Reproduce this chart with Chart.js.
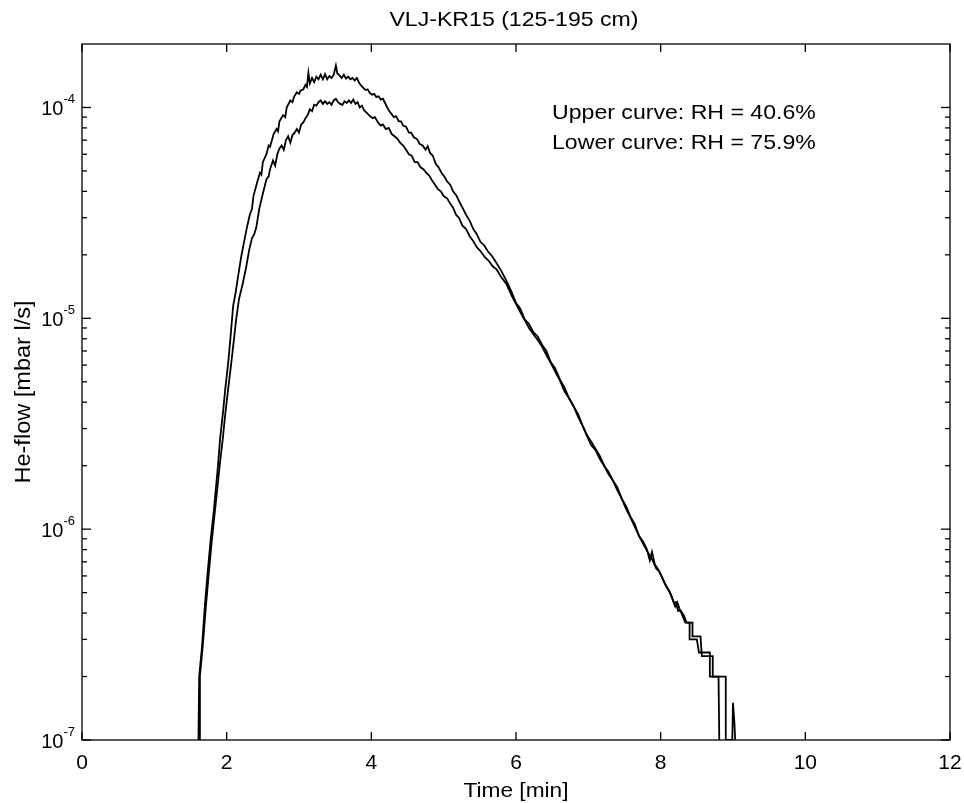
<!DOCTYPE html>
<html>
<head>
<meta charset="utf-8">
<script src="https://cdn.jsdelivr.net/npm/chart.js@4/dist/chart.umd.min.js"></script>
<style>
html,body{margin:0;padding:0;background:#fff;}
#wrap{width:964px;height:803px;position:relative;}
</style>
</head>
<body>
<div id="wrap"><canvas id="c" width="964" height="803"></canvas></div>
<script>
// ---------------- data ----------------
const chartTitle = 'VLJ-KR15 (125-195 cm)';
const xAxisTitle = 'Time [min]';
const yAxisTitle = 'He-flow [mbar l/s]';
const noteLines = ['Upper curve: RH = 40.6%', 'Lower curve: RH = 75.9%'];
const xTickValues = [0, 2, 4, 6, 8, 10, 12];
const xTickLabels = ['0', '2', '4', '6', '8', '10', '12'];
const yTickExponents = [-7, -6, -5, -4];
const yTickBase = '10';

// [time (min), He-flow (mbar l/s)]
const upperCurve = [
[1.61,1.0e-7],[1.62,2.0e-7],[1.66,2.8e-7],[1.70,4.4e-7],[1.74,6.4e-7],[1.78,9.0e-7],[1.82,1.2e-6],[1.85,1.55e-6],[1.88,2.0e-6],[1.91,2.7e-6],[1.95,3.6e-6],[1.98,4.6e-6],[2.02,6.1e-6],[2.05,7.9e-6],[2.09,1.15e-5],[2.12,1.3e-5],[2.16,1.6e-5],[2.20,1.95e-5],[2.24,2.3e-5],[2.28,2.7e-5],[2.32,3.1e-5],[2.35,3.3e-5],[2.37,3.8e-5],[2.42,4.4e-5],[2.46,4.9e-5],[2.48,4.8e-5],[2.50,5.5e-5],[2.55,6.0e-5],[2.58,6.6e-5],[2.60,6.5e-5],[2.65,7.5e-5],[2.69,7.9e-5],[2.71,7.7e-5],[2.73,8.6e-5],[2.78,9.2e-5],[2.81,9.0e-5],[2.83,1.0e-4],[2.88,1.08e-4],[2.91,1.06e-4],[2.93,1.12e-4],[2.97,1.18e-4],[3.00,1.16e-4],[3.02,1.2e-4],[3.06,1.22e-4],[3.09,1.28e-4],[3.11,1.25e-4],[3.13,1.46e-4],[3.15,1.3e-4],[3.18,1.38e-4],[3.21,1.32e-4],[3.24,1.4e-4],[3.27,1.36e-4],[3.30,1.43e-4],[3.33,1.36e-4],[3.36,1.44e-4],[3.39,1.36e-4],[3.42,1.41e-4],[3.45,1.38e-4],[3.48,1.43e-4],[3.51,1.58e-4],[3.53,1.45e-4],[3.56,1.42e-4],[3.59,1.38e-4],[3.62,1.43e-4],[3.65,1.37e-4],[3.68,1.4e-4],[3.71,1.36e-4],[3.74,1.38e-4],[3.77,1.34e-4],[3.80,1.38e-4],[3.83,1.31e-4],[3.86,1.27e-4],[3.89,1.24e-4],[3.92,1.21e-4],[3.95,1.22e-4],[3.98,1.17e-4],[4.01,1.15e-4],[4.04,1.16e-4],[4.07,1.12e-4],[4.10,1.13e-4],[4.13,1.09e-4],[4.16,1.1e-4],[4.19,1.05e-4],[4.22,1.0e-4],[4.25,9.6e-5],[4.28,9.3e-5],[4.31,9.0e-5],[4.34,9.1e-5],[4.38,8.6e-5],[4.41,8.6e-5],[4.44,8.2e-5],[4.48,8.1e-5],[4.52,7.6e-5],[4.55,7.6e-5],[4.59,7.2e-5],[4.63,7.1e-5],[4.67,6.7e-5],[4.71,6.6e-5],[4.75,6.3e-5],[4.78,6.55e-5],[4.81,6.1e-5],[4.85,5.9e-5],[4.89,5.4e-5],[4.93,5.2e-5],[4.97,4.9e-5],[5.01,4.7e-5],[5.05,4.45e-5],[5.09,4.3e-5],[5.13,4.0e-5],[5.18,3.8e-5],[5.22,3.55e-5],[5.26,3.35e-5],[5.31,3.1e-5],[5.36,2.9e-5],[5.41,2.65e-5],[5.46,2.5e-5],[5.51,2.3e-5],[5.56,2.22e-5],[5.61,2.08e-5],[5.67,1.97e-5],[5.73,1.83e-5],[5.80,1.67e-5],[5.87,1.5e-5],[5.94,1.33e-5],[6.00,1.18e-5],[6.06,1.11e-5],[6.12,9.9e-6],[6.18,9.4e-6],[6.24,8.6e-6],[6.30,8.2e-6],[6.36,7.5e-6],[6.42,7.0e-6],[6.48,6.2e-6],[6.54,5.8e-6],[6.61,5.1e-6],[6.67,4.7e-6],[6.73,4.2e-6],[6.80,3.8e-6],[6.86,3.4e-6],[6.92,3.1e-6],[6.98,2.8e-6],[7.04,2.6e-6],[7.10,2.4e-6],[7.16,2.22e-6],[7.22,2.0e-6],[7.28,1.87e-6],[7.34,1.7e-6],[7.40,1.58e-6],[7.46,1.4e-6],[7.52,1.29e-6],[7.58,1.15e-6],[7.64,1.06e-6],[7.70,9.3e-7],[7.76,8.7e-7],[7.81,8.0e-7],[7.85,7.1e-7],[7.88,7.8e-7],[7.92,6.8e-7],[7.96,6.5e-7],[8.00,6.1e-7],[8.05,5.6e-7],[8.10,5.2e-7],[8.14,4.9e-7],[8.18,4.5e-7],[8.21,4.5e-7],[8.24,4.1e-7],[8.28,4.1e-7],[8.32,3.9e-7],[8.36,3.6e-7],[8.40,3.6e-7],[8.40,3.0e-7],[8.50,3.0e-7],[8.53,2.6e-7],[8.68,2.6e-7],[8.68,2.0e-7],[8.80,2.0e-7],[8.81,1.0e-7]
];
const lowerCurve = [
[1.62,1.0e-7],[1.63,2.0e-7],[1.67,2.8e-7],[1.71,4.2e-7],[1.75,6.0e-7],[1.79,8.5e-7],[1.83,1.15e-6],[1.87,1.55e-6],[1.91,2.1e-6],[1.945,2.66e-6],[1.98,3.5e-6],[2.02,4.6e-6],[2.06,6.0e-6],[2.10,7.9e-6],[2.13,9.8e-6],[2.17,1.23e-5],[2.22,1.45e-5],[2.27,1.75e-5],[2.31,2.1e-5],[2.35,2.4e-5],[2.38,2.5e-5],[2.41,2.7e-5],[2.45,3.3e-5],[2.50,3.9e-5],[2.55,4.57e-5],[2.58,4.7e-5],[2.60,5.1e-5],[2.64,5.6e-5],[2.67,5.3e-5],[2.70,6.0e-5],[2.73,6.4e-5],[2.76,6.6e-5],[2.79,6.3e-5],[2.82,7.0e-5],[2.85,7.3e-5],[2.88,6.8e-5],[2.91,7.4e-5],[2.94,7.6e-5],[2.97,7.9e-5],[3.00,7.6e-5],[3.03,8.3e-5],[3.06,8.5e-5],[3.09,8.9e-5],[3.12,9.2e-5],[3.15,9.8e-5],[3.18,9.6e-5],[3.21,1.03e-4],[3.24,1.02e-4],[3.27,1.06e-4],[3.30,1.08e-4],[3.33,1.04e-4],[3.36,1.07e-4],[3.39,1.04e-4],[3.42,1.06e-4],[3.45,1.03e-4],[3.48,1.08e-4],[3.51,1.1e-4],[3.54,1.06e-4],[3.57,1.04e-4],[3.60,1.03e-4],[3.63,1.07e-4],[3.66,1.05e-4],[3.69,1.08e-4],[3.72,1.05e-4],[3.75,1.09e-4],[3.78,1.04e-4],[3.81,1.06e-4],[3.84,1.0e-4],[3.87,1.02e-4],[3.90,9.7e-5],[3.94,9.4e-5],[3.98,9.1e-5],[4.02,8.9e-5],[4.05,9.0e-5],[4.09,8.5e-5],[4.13,8.2e-5],[4.16,8.3e-5],[4.20,7.9e-5],[4.24,8.0e-5],[4.28,7.5e-5],[4.32,7.3e-5],[4.36,7.1e-5],[4.40,6.8e-5],[4.44,6.6e-5],[4.48,6.3e-5],[4.52,6.0e-5],[4.56,5.9e-5],[4.60,5.5e-5],[4.64,5.5e-5],[4.68,5.2e-5],[4.72,5.1e-5],[4.76,4.9e-5],[4.80,4.75e-5],[4.84,4.5e-5],[4.88,4.3e-5],[4.92,4.1e-5],[4.96,4.0e-5],[5.00,3.8e-5],[5.05,3.7e-5],[5.09,3.5e-5],[5.13,3.35e-5],[5.17,3.1e-5],[5.21,3.0e-5],[5.26,2.75e-5],[5.31,2.65e-5],[5.36,2.45e-5],[5.41,2.32e-5],[5.46,2.17e-5],[5.51,2.08e-5],[5.57,1.95e-5],[5.62,1.88e-5],[5.68,1.76e-5],[5.73,1.71e-5],[5.80,1.56e-5],[5.87,1.45e-5],[5.94,1.28e-5],[6.00,1.17e-5],[6.06,1.07e-5],[6.12,9.8e-6],[6.18,9.0e-6],[6.24,8.4e-6],[6.30,7.9e-6],[6.36,7.35e-6],[6.42,6.7e-6],[6.48,6.15e-6],[6.54,5.6e-6],[6.61,5.05e-6],[6.67,4.5e-6],[6.73,4.2e-6],[6.80,3.8e-6],[6.86,3.5e-6],[6.92,3.1e-6],[6.98,2.78e-6],[7.04,2.5e-6],[7.10,2.37e-6],[7.16,2.15e-6],[7.22,1.99e-6],[7.28,1.82e-6],[7.34,1.7e-6],[7.40,1.53e-6],[7.46,1.4e-6],[7.52,1.25e-6],[7.58,1.14e-6],[7.64,1.03e-6],[7.70,9.3e-7],[7.76,8.5e-7],[7.82,7.8e-7],[7.88,7.2e-7],[7.94,6.5e-7],[7.98,6.3e-7],[8.02,5.9e-7],[8.07,5.4e-7],[8.12,5.1e-7],[8.16,4.7e-7],[8.20,4.3e-7],[8.23,4.5e-7],[8.26,4.2e-7],[8.30,3.9e-7],[8.34,3.6e-7],[8.44,3.6e-7],[8.44,3.1e-7],[8.55,3.1e-7],[8.57,2.5e-7],[8.72,2.5e-7],[8.72,2.0e-7],[8.90,2.0e-7],[8.90,1.0e-7],[8.99,1.0e-7],[9.00,1.5e-7],[9.02,1.2e-7],[9.03,1.0e-7]
];

// ---------------- drawing ----------------
const FONT = '"Liberation Sans", Arial, Helvetica, sans-serif';

function wideText(ctx, txt, x, y, sx) {
  ctx.save();
  ctx.translate(x, y);
  ctx.scale(sx, 1);
  ctx.fillText(txt, 0, 0);
  ctx.restore();
}

const matlabAxes = {
  id: 'matlabAxes',
  afterDraw(chart) {
    const {ctx, chartArea: a, scales: {x, y}} = chart;
    ctx.save();
    ctx.strokeStyle = '#000';
    ctx.fillStyle = '#000';
    ctx.lineWidth = 1.3;
    const seg = (x1, y1, x2, y2) => { ctx.beginPath(); ctx.moveTo(x1, y1); ctx.lineTo(x2, y2); ctx.stroke(); };
    ctx.strokeRect(a.left, a.top, a.right - a.left, a.bottom - a.top);

    // x ticks + labels
    ctx.font = '21px ' + FONT;
    ctx.textAlign = 'center';
    ctx.textBaseline = 'alphabetic';
    xTickValues.forEach((v, i) => {
      const px = x.getPixelForValue(v);
      seg(px, a.bottom, px, a.bottom - 8);
      seg(px, a.top, px, a.top + 8);
      ctx.fillText(xTickLabels[i], px, 769);
    });

    // y major ticks + labels
    const yMin = y.min, yMax = y.max;
    yTickExponents.forEach(e => {
      const py = y.getPixelForValue(Math.pow(10, e));
      seg(a.left, py, a.left + 9, py);
      seg(a.right, py, a.right - 9, py);
      const expTxt = String(e);
      ctx.font = '13px ' + FONT;
      ctx.textAlign = 'right';
      const ew = ctx.measureText(expTxt).width;
      ctx.fillText(expTxt, 75, py - 4);
      ctx.font = '20px ' + FONT;
      ctx.fillText(yTickBase, 75 - ew, py + 8);
    });
    // y minor ticks
    yTickExponents.forEach(e => {
      for (let m = 2; m <= 9; m++) {
        const v = m * Math.pow(10, e);
        if (v <= yMin || v >= yMax * 0.999) continue;
        const py = y.getPixelForValue(v);
        seg(a.left, py, a.left + 5, py);
        seg(a.right, py, a.right - 5, py);
      }
    });

    // title (centred, slightly wide like the scanned original)
    ctx.textAlign = 'center';
    ctx.font = '21px ' + FONT;
    wideText(ctx, chartTitle, (a.left + a.right) / 2 - 2, 26, 1.1);
    // x axis title
    wideText(ctx, xAxisTitle, (a.left + a.right) / 2, 797, 1.08);
    // y axis title
    ctx.save();
    ctx.translate(30, (a.top + a.bottom) / 2);
    ctx.rotate(-Math.PI / 2);
    ctx.font = '22px ' + FONT;
    ctx.scale(1.07, 1);
    ctx.fillText(yAxisTitle, 0, 0);
    ctx.restore();
    // annotation
    ctx.textAlign = 'left';
    ctx.font = '21px ' + FONT;
    wideText(ctx, noteLines[0], 552, 119, 1.1);
    wideText(ctx, noteLines[1], 552, 149, 1.1);
    ctx.restore();
  }
};

const toXY = arr => arr.map(p => ({x: p[0], y: p[1]}));

new Chart(document.getElementById('c'), {
  type: 'line',
  data: {
    datasets: [
      {label: 'Upper curve: RH = 40.6%', data: toXY(upperCurve), borderColor: '#000', borderWidth: 1.8, pointRadius: 0, tension: 0, fill: false},
      {label: 'Lower curve: RH = 75.9%', data: toXY(lowerCurve), borderColor: '#000', borderWidth: 1.8, pointRadius: 0, tension: 0, fill: false}
    ]
  },
  options: {
    responsive: false,
    devicePixelRatio: 1,
    animation: false,
    layout: {padding: {left: 82, right: 14, top: 44, bottom: 63}},
    plugins: {legend: {display: false}, title: {display: false}, tooltip: {enabled: false}},
    scales: {
      x: {type: 'linear', min: 0, max: 12, display: false},
      y: {type: 'logarithmic', min: 1e-7, max: 2e-4, display: false}
    }
  },
  plugins: [matlabAxes]
});
</script>
</body>
</html>
